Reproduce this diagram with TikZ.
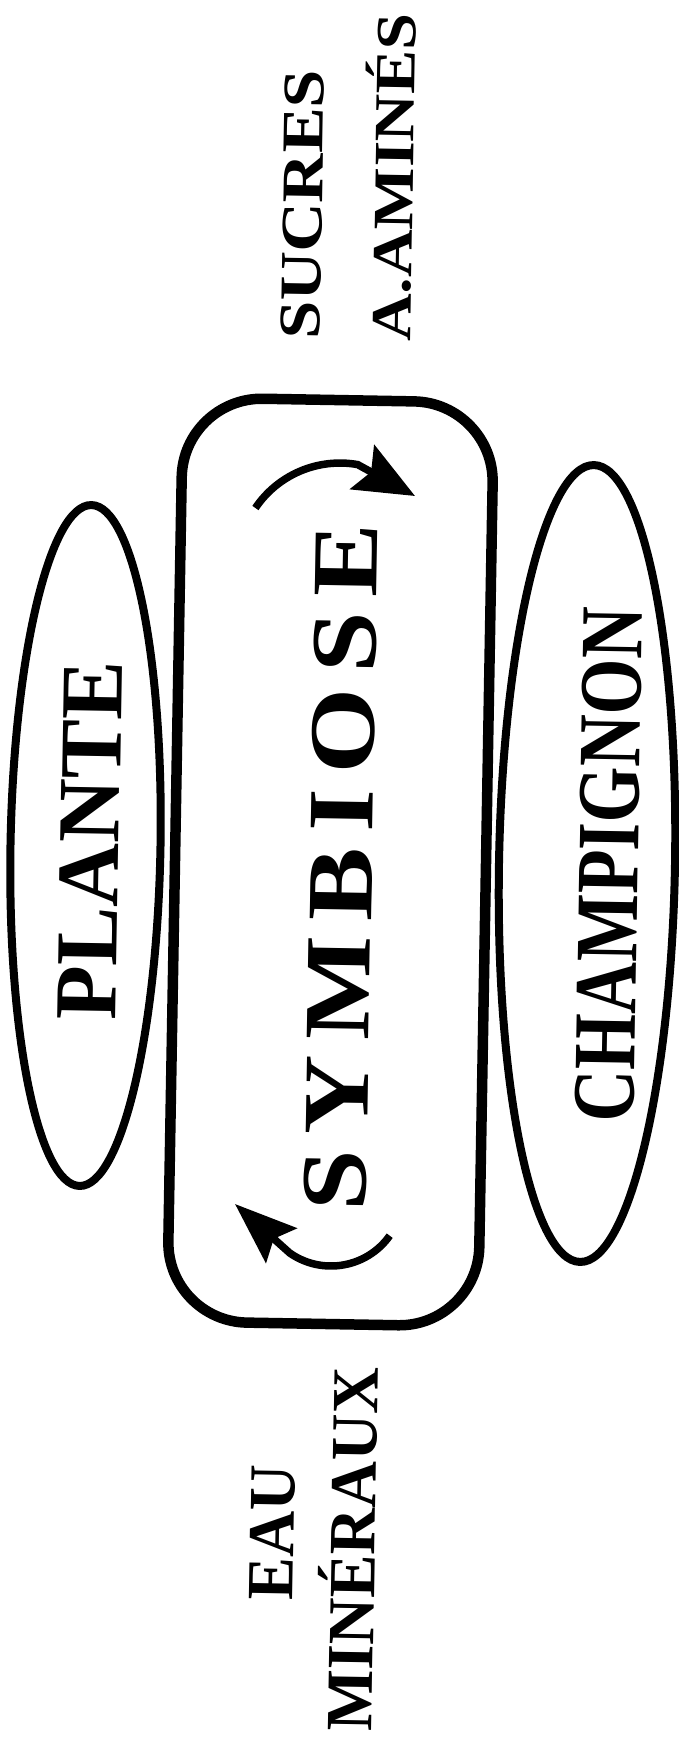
\documentclass[tikz,border=0pt]{standalone}
\usepackage{fontspec}
\setmainfont{Liberation Serif}
\usetikzlibrary{shapes.geometric,arrows.meta}
\newcommand\fitw[3]{\resizebox{#1pt}{\height}{\fontsize{#2pt}{#2pt}\selectfont\bfseries #3}}
\begin{document}
\begin{tikzpicture}[x=1pt,y=1pt,
  lbl/.style={rotate=89, anchor=base, inner sep=0pt, outer sep=0pt},
  blob/.style={draw, line width=8pt, ellipse, inner sep=0pt, rotate=-1},
  arrA/.style={line width=7.5pt, -{Stealth[length=60pt,width=50pt,inset=10pt]}},
  arrB/.style={line width=7.5pt, -{Stealth[length=62pt,width=46pt,inset=10pt]}}
]
\fill[white] (0,0) rectangle (678,-1739);
\useasboundingbox (0,0) rectangle (678,-1739);

% central rounded box
\node[draw, line width=10.5pt, rounded corners=80pt, minimum width=311pt,
      minimum height=924pt, inner sep=0pt, rotate=-1] (box) at (330.5,-862) {};

% side ellipses
\node[blob, minimum width=150pt, minimum height=681pt] (plante) at (85.5,-845.5) {};
\node[blob, minimum width=176pt, minimum height=797pt] (champ) at (587,-863.5) {};

% labels
\node[lbl] (tplante) at (119,-841) {\fitw{359}{88.4}{PLANTE}};
\node[lbl] (tsym) at (372,-867.5) {\fitw{688}{93.7}{S\kern13pt Y\kern13pt M\kern13pt B\kern13pt I\kern13pt O\kern13pt S\kern13pt E}};
\node[lbl] (tchamp) at (638,-865) {\fitw{515}{89}{CHAMPIGNON}};
\node[lbl] (tsuc) at (322,-205) {\fitw{270}{59}{SUCRES}};
\node[lbl] (tami) at (413,-178) {\fitw{328}{57}{A.AMINÉS}};
\node[lbl] (teau) at (294,-1533) {\fitw{135}{66}{EAU}};
\node[lbl] (tmin) at (375,-1550) {\fitw{364}{66}{MINÉRAUX}};

% curved arrows
\coordinate (ta) at (255.4,-508);
\coordinate (tb) at (415,-496);
\draw[arrA] (ta) arc[start angle=146, end angle=80, radius=102] -- (tb);
\coordinate (ba) at (389.7,-1235.7);
\coordinate (bb) at (235,-1204);
\draw[arrB] (ba) arc[start angle=-35.4, end angle=-125, radius=72] -- (bb);
\end{tikzpicture}
\end{document}
